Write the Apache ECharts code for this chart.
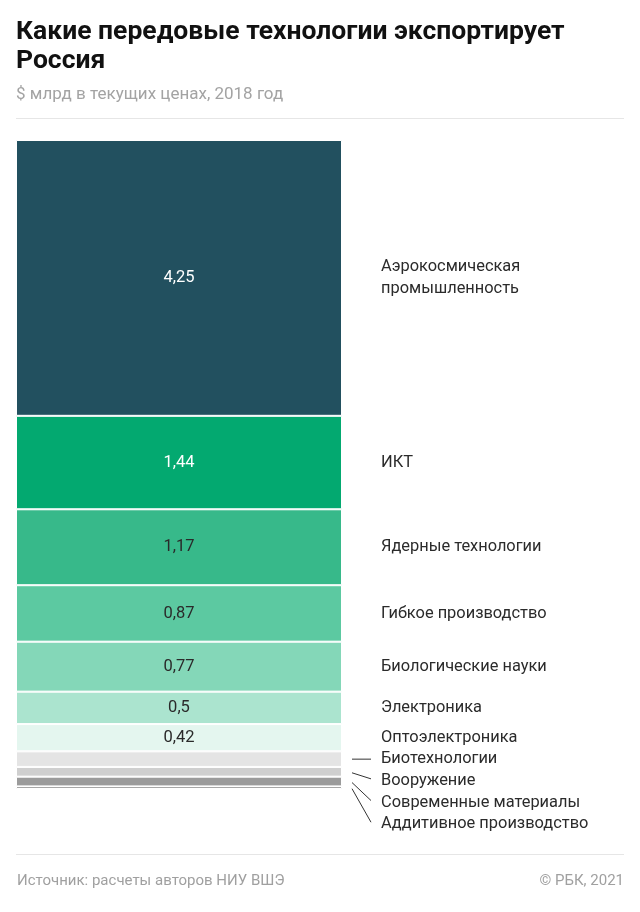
<!DOCTYPE html>
<html>
<head>
<meta charset="utf-8">
<script src="https://cdn.jsdelivr.net/npm/echarts@6/dist/echarts.min.js"></script>
<style>
html,body{margin:0;padding:0;background:#fff;}
#c{width:640px;height:912px;}
</style>
</head>
<body>
<div id="c"></div>
<script>
const categories = ['Аэрокосмическая\nпромышленность','ИКТ','Ядерные технологии','Гибкое производство','Биологические науки','Электроника','Оптоэлектроника','Биотехнологии','Вооружение','Современные материалы','Аддитивное производство'];
const values = [4.25, 1.44, 1.17, 0.87, 0.77, 0.5, 0.42, 0.24, 0.15, 0.15, 0.04];
const showValue = [true, true, true, true, true, true, true, false, false, false, false];
const colors = ['#22505f','#03a970','#37b98a','#5cc9a1','#84d7b8','#abe4cf','#e4f6ef','#e4e4e4','#cfcfcf','#9b9b9b','#6f6f6f'];
const labelColors = ['#ffffff','#ffffff','#2a2a2a','#2a2a2a','#2a2a2a','#2a2a2a','#2a2a2a','#2a2a2a','#2a2a2a','#2a2a2a','#2a2a2a'];
const titleText = 'Какие передовые технологии экспортирует\nРоссия';
const subtitleText = '$ млрд в текущих ценах, 2018 год';
const sourceText = 'Источник: расчеты авторов НИУ ВШЭ';
const copyrightText = '© РБК, 2021';

const FONT = 'Roboto, "Noto Sans", sans-serif';
const total = values.reduce((a, b) => a + b, 0);
const fmt = v => String(v).replace('.', ',');

const chart = echarts.init(document.getElementById('c'), null, {renderer: 'canvas'});

const series = values.map((v, i) => ({
  type: 'bar',
  name: categories[i],
  stack: 'total',
  data: [v],
  barWidth: '100%',
  itemStyle: {color: colors[i], borderColor: '#ffffff', borderWidth: 1},
  label: {
    show: showValue[i],
    position: 'inside',
    formatter: p => fmt(p.value),
    color: labelColors[i],
    fontFamily: FONT,
    fontSize: 16.5
  },
  emphasis: {disabled: true},
  animation: false
}));

chart.setOption({
  animation: false,
  title: {
    text: titleText,
    subtext: subtitleText,
    left: 16,
    top: 18,
    padding: 0,
    itemGap: 9,
    textStyle: {fontFamily: FONT, fontWeight: 'bold', fontSize: 26.5, lineHeight: 29, color: '#111'},
    subtextStyle: {fontFamily: FONT, fontSize: 17, lineHeight: 20, color: '#a3a3a3'}
  },
  grid: {left: 16, right: 298, top: 140, bottom: 123},
  xAxis: {type: 'category', data: [''], show: false},
  yAxis: {type: 'value', inverse: true, min: 0, max: total, show: false},
  series: series
});

// Annotation layer: names and pointer lines positioned through the chart's scales
const gridRect = chart.getModel().getComponent('grid').coordinateSystem.getRect();
const barRight = gridRect.x + gridRect.width;
const nameX = barRight + 39;
const graphics = [];
let cum = 0;
const centers = values.map(v => { const c = cum + v / 2; cum += v; return chart.convertToPixel({yAxisIndex: 0}, c); });
const firstSmall = showValue.indexOf(false);
const smallStep = 21.7;
categories.forEach((name, i) => {
  const segY = centers[i];
  let ly = segY;
  if (i >= firstSmall) {
    ly = centers[firstSmall] + (i - firstSmall) * smallStep;
    const x1 = barRight + 10, x2 = barRight + 29;
    const y1 = i === firstSmall ? segY : segY + 1;
    const y2 = i === firstSmall ? ly : ly - 2;
    graphics.push({type: 'line', shape: {x1: x1, y1: y1, x2: x2, y2: y2}, style: {stroke: '#333', lineWidth: 1}, silent: true});
  }
  graphics.push({
    type: 'text', x: nameX, y: ly,
    style: {text: name, font: '16.4px ' + FONT, fill: '#2b2b2b', textVerticalAlign: 'middle', lineHeight: 22},
    silent: true
  });
});
// separators and footer
graphics.push({type: 'line', shape: {x1: 16, y1: 118.5, x2: 624, y2: 118.5}, style: {stroke: '#e6e6e6', lineWidth: 1}, silent: true});
graphics.push({type: 'line', shape: {x1: 16, y1: 854.5, x2: 624, y2: 854.5}, style: {stroke: '#e6e6e6', lineWidth: 1}, silent: true});
graphics.push({type: 'text', x: 17, y: 881, style: {text: sourceText, font: '15px ' + FONT, fill: '#a0a0a0', textVerticalAlign: 'middle'}, silent: true});
graphics.push({type: 'text', x: 624, y: 881, style: {text: copyrightText, font: '15px ' + FONT, fill: '#a0a0a0', textAlign: 'right', textVerticalAlign: 'middle'}, silent: true});

chart.setOption({graphic: {elements: graphics}});
</script>
</body>
</html>
